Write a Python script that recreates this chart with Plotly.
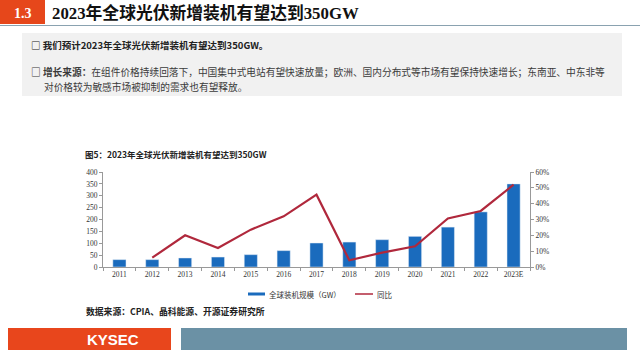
import plotly.graph_objects as go

years = ["2011", "2012", "2013", "2014", "2015", "2016", "2017", "2018",
         "2019", "2020", "2021", "2022", "2023E"]
capacity_gw = [31, 31, 38, 42, 52, 69, 101, 105, 115, 129, 168, 232, 350]
yoy_pct = [None, 5.9, 20.0, 12.0, 23.6, 32.0, 45.7, 4.2, 9.1, 13.1, 30.7, 35.4, 52.0]

W, H = 640, 360
L, R, T, B = 103, 530, 172, 267   # plot area in pixels

def px(x):
    return (x - L) / (R - L)

def py(y):
    return (B - y) / (B - T)

SERIF = "Liberation Serif, Noto Sans CJK SC"
CJK = "Noto Sans CJK SC, Liberation Serif"
BAR_C = "#1a6bbd"
LINE_C = "#b0283c"

fig = go.Figure()
fig.add_trace(go.Bar(x=years, y=capacity_gw, marker_color=BAR_C, width=0.4,
                     name="全球装机规模（GW）", showlegend=False))
fig.add_trace(go.Scatter(x=years, y=yoy_pct, yaxis="y2", mode="lines",
                         line=dict(color=LINE_C, width=2.2), name="同比",
                         showlegend=False))

shapes = []
def rect(x0, y0, x1, y1, color):
    shapes.append(dict(type="rect", xref="paper", yref="paper",
                       x0=px(x0), x1=px(x1), y0=py(y1), y1=py(y0),
                       fillcolor=color, line=dict(width=0), layer="below"))

rect(0, 0, 45, 24, "#e6471b")
shapes.append(dict(type="line", xref="paper", yref="paper",
                   x0=px(0), x1=px(640), y0=py(25.5), y1=py(25.5),
                   line=dict(color="#8aa2b0", width=1.2)))
rect(22, 33, 622, 96, "#f1f1f1")
rect(8, 328, 171, 350, "#e8461c")
rect(181, 328, 627, 350, "#6b91a5")
# custom legend swatches
rect(248, 292.5, 265, 295.5, BAR_C)
shapes.append(dict(type="line", xref="paper", yref="paper",
                   x0=px(355), x1=px(373), y0=py(294), y1=py(294),
                   line=dict(color=LINE_C, width=1.5)))

ann = []
def text(x, y, s, size, color="#222", font=CJK, xanchor="left"):
    ann.append(dict(xref="paper", yref="paper", x=px(x), y=py(y), text=s,
                    showarrow=False, xanchor=xanchor, yanchor="middle",
                    font=dict(family=font, size=size, color=color)))

text(22.5, 13, "<b>1.3</b>", 14, "white", SERIF, "center")
text(50, 13, "<b>2023年全球光伏新增装机有望达到350GW</b>", 16.8, "#111", SERIF)
text(29, 45, "<b>□ 我们预计2023年全球光伏新增装机有望达到350GW。</b>", 9.5, "#222")
text(29, 72, "<b>□ 增长来源：</b>在组件价格持续回落下，中国集中式电站有望快速放量；欧洲、国内分布式等市场有望保持快速增长；东南亚、中东非等",
     9.7, "#3a3a3a")
text(42, 87, "对价格较为敏感市场被抑制的需求也有望释放。", 9.7, "#3a3a3a")
text(83, 154, "<b>图5：2023年全球光伏新增装机有望达到350GW</b>", 8.5, "#222")
text(267, 294, "全球装机规模（GW）", 7.5, "#333")
text(375, 294, "同比", 7.5, "#333")
text(84, 311, "<b>数据来源：CPIA、晶科能源、开源证券研究所</b>", 8.8, "#222")
text(113, 339.5, "<b>KYSEC</b>", 15, "white", "Liberation Sans, Arial", "center")

axis_font = dict(family=SERIF, size=7.5, color="#333")
fig.update_layout(
    width=W, height=H,
    margin=dict(l=L, r=W - R, t=T, b=H - B, pad=0),
    paper_bgcolor="white", plot_bgcolor="white",
    bargap=0.6,
    xaxis=dict(type="category", range=[-0.5, 12.5], showline=True,
               linecolor="#999", linewidth=1, ticks="outside", ticklen=3,
               tickcolor="#999", tickson="boundaries", tickfont=axis_font,
               showgrid=False, fixedrange=True),
    yaxis=dict(range=[0, 400], dtick=50, showline=True, linecolor="#999",
               linewidth=1, ticks="outside", ticklen=3, tickcolor="#999",
               tickfont=axis_font, showgrid=False, zeroline=False),
    yaxis2=dict(range=[0, 60], dtick=10, ticksuffix="%", overlaying="y",
                side="right", showline=True, linecolor="#999", linewidth=1,
                ticks="outside", ticklen=3, tickcolor="#999",
                tickfont=axis_font, showgrid=False, zeroline=False),
    shapes=shapes, annotations=ann, showlegend=False,
)

fig.write_html("out.html", config={"displayModeBar": False},
               post_script="document.body.style.margin='0';document.body.style.overflow='hidden';")
